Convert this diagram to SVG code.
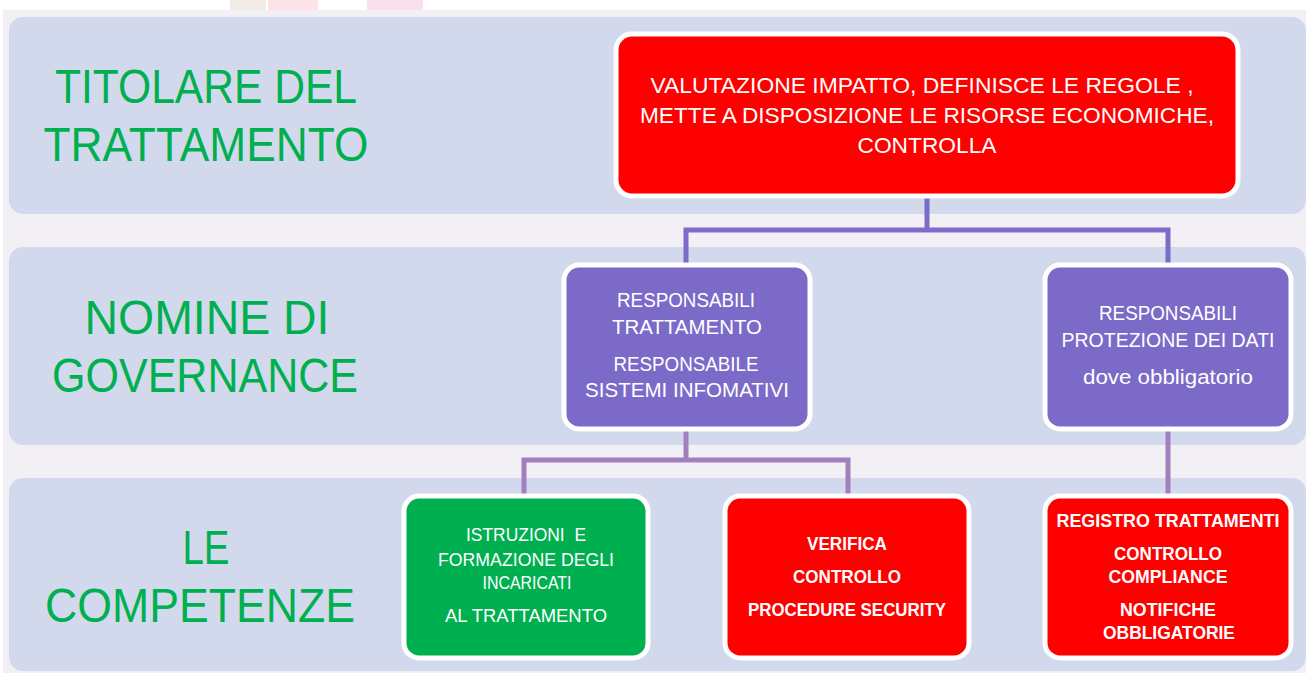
<svg xmlns="http://www.w3.org/2000/svg" width="1306" height="673" viewBox="0 0 1306 673">
<style>
.band{fill:#d3d9ec}
.box{stroke:#ffffff;stroke-width:5}
.red{fill:#ff0000}
.pur{fill:#7c6ac8}
.grn{fill:#00b050}
.lbl{font-family:"Liberation Sans",Arial,sans-serif;font-size:48px;fill:#00b050;text-anchor:middle}
.t{font-family:"Liberation Sans",Arial,sans-serif;fill:#ffffff;text-anchor:middle}
.t1{font-size:22px}
.t2{font-size:19.5px}
.t3{font-size:17.5px}
.b{font-weight:bold}
.c1{fill:none;stroke:#7d6bc9;stroke-width:5}
.c2{fill:none;stroke:#a47fc0;stroke-width:5}
</style>
<rect width="1306" height="673" fill="#ffffff"/>
<rect x="230" y="0" width="36" height="10" fill="#f3ece6"/>
<rect x="268" y="0" width="50" height="10" fill="#fde3e8"/>
<rect x="367" y="0" width="56" height="10" fill="#f8e1ec"/>
<rect x="3" y="10" width="1303" height="663" fill="#f2f0f4"/>
<g id="bands">
<rect class="band" x="9" y="17" width="1297" height="197" rx="14"/>
<rect class="band" x="9" y="247" width="1297" height="198" rx="14"/>
<rect class="band" x="9" y="478" width="1297" height="193" rx="14"/>
</g>
<g id="labels">
<text class="lbl" x="206" y="103" textLength="302" lengthAdjust="spacingAndGlyphs">TITOLARE DEL</text>
<text class="lbl" x="206" y="161" textLength="325" lengthAdjust="spacingAndGlyphs">TRATTAMENTO</text>
<text class="lbl" x="207" y="334" textLength="245" lengthAdjust="spacingAndGlyphs">NOMINE DI</text>
<text class="lbl" x="205" y="392" textLength="306" lengthAdjust="spacingAndGlyphs">GOVERNANCE</text>
<text class="lbl" x="206" y="564" textLength="47" lengthAdjust="spacingAndGlyphs">LE</text>
<text class="lbl" x="200" y="622" textLength="310" lengthAdjust="spacingAndGlyphs">COMPETENZE</text>
</g>
<g id="connectors">
<path class="c1" d="M927 196 V230 M686 265 V230 H1168 V265"/>
<path class="c2" d="M686 430 V460 M524 496 V460 H848 V496 M1168 430 V496"/>
</g>
<g id="titolare">
<rect class="box red" x="616" y="34" width="622" height="162" rx="16"/>
<text class="t t1" x="922" y="93" textLength="543" lengthAdjust="spacingAndGlyphs">VALUTAZIONE IMPATTO, DEFINISCE LE REGOLE ,</text>
<text class="t t1" x="927" y="123" textLength="574" lengthAdjust="spacingAndGlyphs">METTE A DISPOSIZIONE LE RISORSE ECONOMICHE,</text>
<text class="t t1" x="927" y="153" textLength="139" lengthAdjust="spacingAndGlyphs">CONTROLLA</text>
</g>
<g id="resp-trattamento">
<rect class="box pur" x="564" y="265" width="246" height="164" rx="15"/>
<text class="t t2" x="686" y="307" textLength="138" lengthAdjust="spacingAndGlyphs">RESPONSABILI</text>
<text class="t t2" x="687" y="334" textLength="150" lengthAdjust="spacingAndGlyphs">TRATTAMENTO</text>
<text class="t t2" x="686" y="371" textLength="145" lengthAdjust="spacingAndGlyphs">RESPONSABILE</text>
<text class="t t2" x="687" y="397" textLength="204" lengthAdjust="spacingAndGlyphs">SISTEMI INFOMATIVI</text>
</g>
<g id="resp-protezione">
<rect class="box pur" x="1045" y="265" width="246" height="164" rx="15"/>
<text class="t t2" x="1168" y="320" textLength="138" lengthAdjust="spacingAndGlyphs">RESPONSABILI</text>
<text class="t t2" x="1168" y="347" textLength="213" lengthAdjust="spacingAndGlyphs">PROTEZIONE DEI DATI</text>
<text class="t t2" x="1168" y="384" textLength="170" lengthAdjust="spacingAndGlyphs">dove obbligatorio</text>
</g>
<g id="istruzioni">
<rect class="box grn" x="404" y="496" width="244" height="162" rx="15"/>
<text class="t t3" x="526" y="541" textLength="120" lengthAdjust="spacingAndGlyphs" xml:space="preserve">ISTRUZIONI  E</text>
<text class="t t3" x="526" y="566" textLength="176" lengthAdjust="spacingAndGlyphs">FORMAZIONE DEGLI</text>
<text class="t t3" x="527" y="589" textLength="89" lengthAdjust="spacingAndGlyphs">INCARICATI</text>
<text class="t t3" x="526" y="622" textLength="162" lengthAdjust="spacingAndGlyphs">AL TRATTAMENTO</text>
</g>
<g id="verifica">
<rect class="box red" x="725" y="496" width="244" height="162" rx="15"/>
<text class="t t3 b" x="847" y="550" textLength="80" lengthAdjust="spacingAndGlyphs">VERIFICA</text>
<text class="t t3 b" x="847" y="583" textLength="108" lengthAdjust="spacingAndGlyphs">CONTROLLO</text>
<text class="t t3 b" x="847" y="616" textLength="198" lengthAdjust="spacingAndGlyphs">PROCEDURE SECURITY</text>
</g>
<g id="registro">
<rect class="box red" x="1045" y="496" width="246" height="162" rx="15"/>
<text class="t t3 b" x="1168" y="527" textLength="223" lengthAdjust="spacingAndGlyphs">REGISTRO TRATTAMENTI</text>
<text class="t t3 b" x="1168" y="560" textLength="108" lengthAdjust="spacingAndGlyphs">CONTROLLO</text>
<text class="t t3 b" x="1168" y="583" textLength="119" lengthAdjust="spacingAndGlyphs">COMPLIANCE</text>
<text class="t t3 b" x="1168" y="616" textLength="96" lengthAdjust="spacingAndGlyphs">NOTIFICHE</text>
<text class="t t3 b" x="1169" y="639" textLength="132" lengthAdjust="spacingAndGlyphs">OBBLIGATORIE</text>
</g>
</svg>
